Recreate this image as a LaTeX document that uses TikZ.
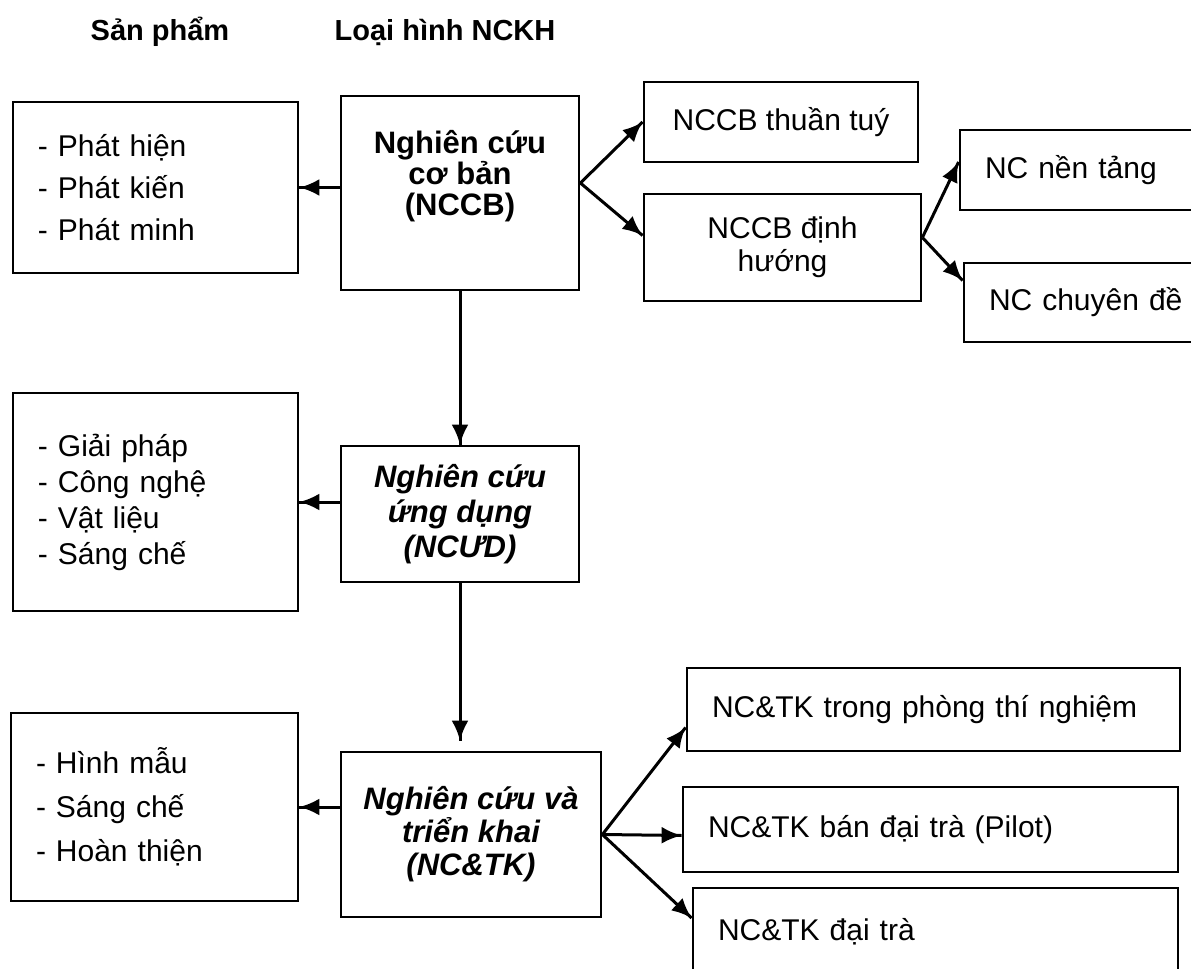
\documentclass[tikz,border=0pt]{standalone}
\usepackage{fontspec}
\setmainfont{Liberation Sans}
\usepackage{tikz}
\usetikzlibrary{arrows.meta}
\usetikzlibrary{decorations.markings}
\usetikzlibrary{positioning}
\newcommand{\boxfont}[2]{\fontsize{#1}{#2}\selectfont}
\tikzset{arrowto/.style = {line width=1.5pt,
                           decoration={markings,
                                       mark=at position 1 with {\arrow{Latex[length=10pt, width=8.5pt]}}},
                           postaction={decorate}}}
\tikzset{head/.style = {font=\bfseries\boxfont{14.5}{17}}}
\tikzset{typebox/.style = {draw, line width=1.4pt, align=center, inner sep=0pt,
                           font=\bfseries\boxfont{15.5}{15.5}}}
\tikzset{subbox/.style = {draw, line width=1.4pt, align=center, inner sep=0pt,
                          font=\boxfont{15}{16.5}}}
\tikzset{listbox/.style = {draw, line width=1.4pt, align=left, inner xsep=12.5pt, inner ysep=0pt,
                           font=\boxfont{15}{18}}}

\begin{document}
\begin{tikzpicture}[x=0.5pt, y=-0.5pt]
    \useasboundingbox (0, 0) rectangle (1191, 969);
    \clip (0, 0) rectangle (1191, 969);

    % column heads
    \node [head] (hdprod) at (160, 32) {Sản phẩm};
    \node [head] (hdtype) at (445, 32) {Loại hình NCKH};

    % types of research
    \node [typebox, minimum width=119pt, minimum height=97pt] (nccb) at (460, 193)
        {Nghiên cứu\\cơ bản\\(NCCB)\\[5pt]\mbox{}};
    \node [typebox, minimum width=119pt, minimum height=68pt,
           font=\bfseries\itshape\boxfont{15.5}{17.5}] (ncud) at (460, 514)
        {Nghiên cứu\\ứng dụng\\(NCƯD)};
    \node [typebox, minimum width=130pt, minimum height=82.5pt,
           font=\bfseries\itshape\boxfont{15.5}{16.5}] (nctk) at (471, 834.5)
        {Nghiên cứu và\\triển khai\\(NC\&TK)};

    % products
    \node [listbox, text width=117.5pt, minimum height=85.5pt, font=\boxfont{15}{21}] (prodA) at (155.5, 187.5)
        {- Phát hiện\\- Phát kiến\\- Phát minh};
    \node [listbox, text width=117.5pt, minimum height=109pt] (prodB) at (155.5, 502)
        {- Giải pháp\\- Công nghệ\\- Vật liệu\\- Sáng chế};
    \node [listbox, text width=118.5pt, minimum height=94pt, font=\boxfont{15}{22}] (prodC) at (154.5, 807)
        {- Hình mẫu\\- Sáng chế\\- Hoàn thiện};

    % branches of NCCB
    \node [subbox, minimum width=137pt, minimum height=40pt] (thuantuy) at (781, 122) {NCCB thuần tuý};
    \node [subbox, minimum width=138.5pt, minimum height=53.5pt] (dinhhuong) at (782.5, 247.5) {NCCB định\\hướng};
    \node [listbox, text width=115pt, minimum height=40pt] (nentang) at (1100, 170) {NC nền tảng};
    \node [listbox, text width=113pt, minimum height=39.5pt] (chuyende) at (1102, 302.5) {NC chuyên đề};

    % branches of NC&TK
    \node [listbox, text width=221.5pt, minimum height=41.5pt] (ptn) at (933.5, 709.5) {NC\&TK trong phòng thí nghiệm};
    \node [listbox, text width=222.5pt, minimum height=42.5pt] (pilot) at (930.5, 829.5) {NC\&TK bán đại trà (Pilot)};
    \node [listbox, text width=217.5pt, minimum height=44pt] (daitra) at (935.5, 932) {NC\&TK đại trà};

    % arrows
    \draw [arrowto] (nccb.west |- prodA.east) -- (prodA.east);
    \draw [arrowto] (ncud.west |- prodB.east) -- (prodB.east);
    \draw [arrowto] (nctk.west |- prodC.east) -- (prodC.east);
    \draw [arrowto] (nccb.south) -- (ncud.north);
    \draw [arrowto] (ncud.south) -- ([yshift=5pt]ncud.south |- nctk.north);

    \coordinate (splitA) at ([yshift=5pt]nccb.east);
    \draw [arrowto] (splitA) -- (thuantuy.west);
    \draw [arrowto] (splitA) -- ([yshift=6pt]dinhhuong.west);
    \coordinate (splitB) at ([yshift=5pt]dinhhuong.east);
    \draw [arrowto] (splitB) -- ([yshift=4pt]nentang.west);
    \draw [arrowto] (splitB) -- ([yshift=11pt]chuyende.west);
    \draw [arrowto] (nctk.east) -- ([yshift=-9pt]ptn.west);
    \draw [arrowto] (nctk.east) -- ([yshift=-3pt]pilot.west);
    \draw [arrowto] (nctk.east) -- ([yshift=7pt]daitra.west);
\end{tikzpicture}
\end{document}
